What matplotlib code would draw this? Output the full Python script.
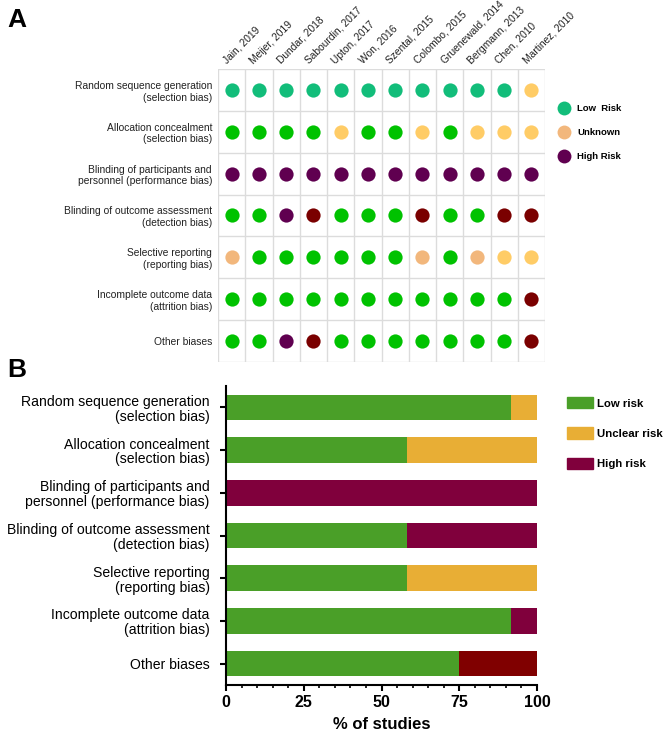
import matplotlib
matplotlib.use("Agg")
import matplotlib.pyplot as plt
from matplotlib.lines import Line2D
from matplotlib.patches import Patch
from matplotlib.ticker import MultipleLocator

plt.rcParams["font.family"] = ["Liberation Sans", "DejaVu Sans"]

studies = ["Jain, 2019", "Meijer, 2019", "Dundar, 2018", "Sabourdin, 2017",
           "Upton, 2017", "Won, 2016", "Szental, 2015", "Colombo, 2015",
           "Gruenewald, 2014", "Bergmann, 2013", "Chen, 2010", "Martinez, 2010"]

domains = ["Random sequence generation\n(selection bias)",
           "Allocation concealment\n(selection bias)",
           "Blinding of participants and\npersonnel (performance bias)",
           "Blinding of outcome assessment\n(detection bias)",
           "Selective reporting\n(reporting bias)",
           "Incomplete outcome data\n(attrition bias)",
           "Other biases"]

# T = low risk (teal), G = low (green), Y = unclear, O = unknown, P = high, R = high (red)
judgements = [
    "TTTTTTTTTTTY",
    "GGGGYGGYGYYY",
    "PPPPPPPPPPPP",
    "GGPRGGGRGGRR",
    "OGGGGGGOGOYY",
    "GGGGGGGGGGGR",
    "GGPRGGGGGGGR",
]

# percentages for panel B
low_risk = [91.7, 58.3, 0.0, 58.3, 58.3, 91.7, 75.0]
unclear_risk = [8.3, 41.7, 0.0, 0.0, 41.7, 0.0, 0.0]
high_risk = [0.0, 0.0, 100.0, 41.7, 0.0, 8.3, 25.0]

dot_farver = {"T": "#12bd7a", "G": "#00c200", "Y": "#ffcc66", "O": "#f2b77c",
              "P": "#600050", "R": "#7a0000"}
groen = "#4a9f28"
gul = "#e8ae35"
roed = ["#80003c"] * 6 + ["#800000"]

W, H = 664, 733
fig = plt.figure(figsize=(W / 100, H / 100), dpi=100)

# Panel A - dot table
axA = fig.add_axes([218 / W, 1 - 362 / H, 327 / W, 293 / H])
for r, row in enumerate(judgements):
    for c, code in enumerate(row):
        axA.scatter(c, r, s=105, color=dot_farver[code], linewidths=0, zorder=3)
for x in range(len(studies) + 1):
    axA.axvline(x - 0.5, color="#dcdcdc", lw=1, zorder=1)
for y in range(len(domains) + 1):
    axA.axhline(y - 0.5, color="#dcdcdc", lw=1, zorder=1)
axA.set_xlim(-0.5, len(studies) - 0.5)
axA.set_ylim(len(domains) - 0.5, -0.5)
for s in axA.spines.values():
    s.set_visible(False)
axA.set_xticks([])
axA.set_yticks(range(len(domains)))
axA.set_yticklabels(domains, fontsize=7.4, color="#222222")
axA.tick_params(axis="y", length=0, pad=4.3)
for c, name in enumerate(studies):
    axA.annotate(name, xy=(c, -0.5), xytext=(-2.5, 2.5), textcoords="offset points",
                 rotation=45, ha="left", va="bottom", rotation_mode="anchor",
                 fontsize=7.4, color="#222222", annotation_clip=False)

handlesA = [Line2D([], [], marker="o", ls="none", ms=10, mew=0, color=dot_farver["T"]),
            Line2D([], [], marker="o", ls="none", ms=10, mew=0, color=dot_farver["O"]),
            Line2D([], [], marker="o", ls="none", ms=10, mew=0, color=dot_farver["P"])]
fig.legend(handlesA, ["Low  Risk", "Unknown", "High Risk"], loc="upper left",
           bbox_to_anchor=(559 / W, 1 - 104 / H), frameon=False, borderpad=0,
           borderaxespad=0, handlelength=1.0, handletextpad=0.95, labelspacing=1.6,
           prop={"size": 6.8, "weight": "bold"})

# Panel B - stacked bars
axB = fig.add_axes([226 / W, 1 - 685 / H, 311 / W, 299 / H])
ypos = list(range(len(domains)))
left2 = [a + b for a, b in zip(low_risk, unclear_risk)]
axB.barh(ypos, low_risk, height=0.6, color=groen)
axB.barh(ypos, unclear_risk, left=low_risk, height=0.6, color=gul)
axB.barh(ypos, high_risk, left=left2, height=0.6, color=roed)
axB.set_xlim(0, 100)
axB.set_ylim(len(domains) - 0.5, -0.5)
axB.spines["top"].set_visible(False)
axB.spines["right"].set_visible(False)
axB.spines["left"].set_linewidth(1.5)
axB.spines["bottom"].set_linewidth(1.5)
axB.set_yticks(ypos)
axB.set_yticklabels(domains, fontsize=10.1)
for lab in axB.get_yticklabels():
    lab.set_linespacing(1.08)
axB.tick_params(axis="y", length=4.3, width=1.5, pad=7.5)
axB.xaxis.set_major_locator(MultipleLocator(25))
axB.xaxis.set_minor_locator(MultipleLocator(5))
axB.tick_params(axis="x", which="major", length=4, width=1.5, pad=3, labelsize=11.5)
axB.tick_params(axis="x", which="minor", length=2.5, width=1.2)
for lab in axB.get_xticklabels():
    lab.set_fontweight("bold")
axB.set_xlabel("% of studies", fontsize=12, fontweight="bold", labelpad=5)

handlesB = [Patch(color=groen), Patch(color=gul), Patch(color=roed[0])]
fig.legend(handlesB, ["Low risk", "Unclear risk", "High risk"], loc="upper left",
           bbox_to_anchor=(567 / W, 1 - 397 / H), frameon=False, borderpad=0,
           borderaxespad=0, handlelength=2.25, handleheight=1.17, handletextpad=0.36,
           labelspacing=1.65, prop={"size": 8.2, "weight": "bold"})

fig.text(7 / W, 1 - 8 / H, "A", fontsize=19, fontweight="bold", va="top", ha="left")
fig.text(7 / W, 1 - 358 / H, "B", fontsize=19, fontweight="bold", va="top", ha="left")

fig.savefig("out.png", dpi=100)
